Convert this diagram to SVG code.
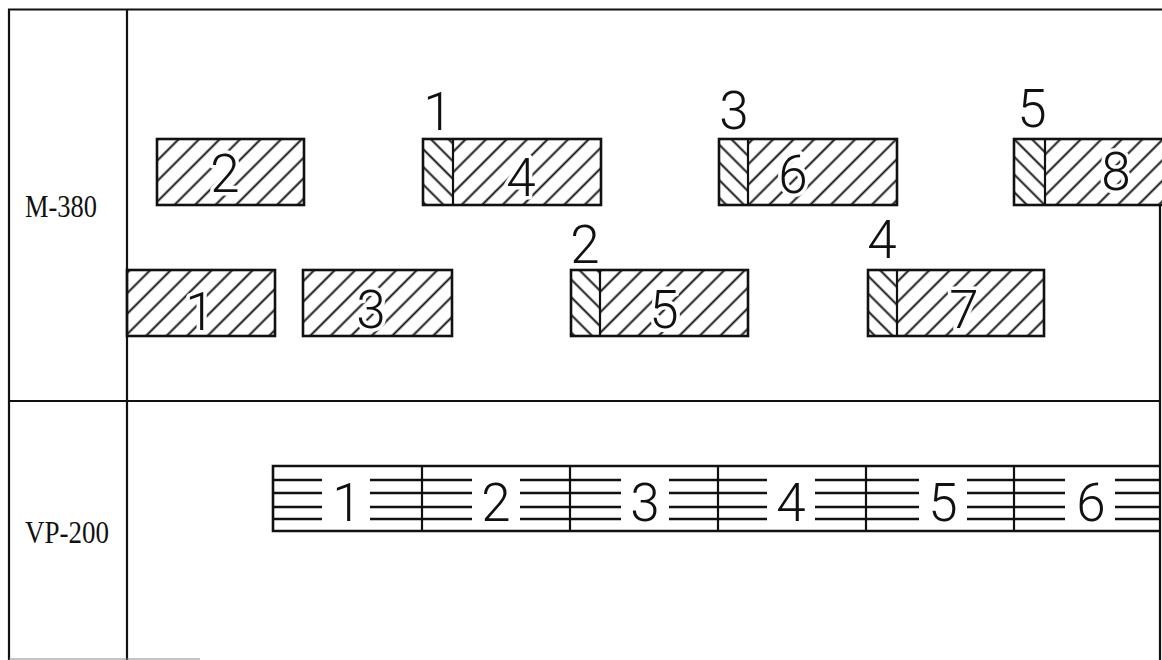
<svg xmlns="http://www.w3.org/2000/svg" width="1162" height="660" viewBox="0 0 1162 660">
<style>
.frame{stroke:#111;stroke-width:2.2;fill:none}
.box{stroke:#111;stroke-width:2.6;fill:none}
.div{stroke:#111;stroke-width:2.2}
.hl{stroke:#111;stroke-width:2.6}
.dig{font-family:Roboto,Inter,"Liberation Sans",sans-serif;font-weight:300;font-size:53px;fill:#111;text-anchor:middle}
.halo{stroke:#fff;stroke-width:7;paint-order:stroke;stroke-linejoin:round}
.lab{font-family:"Liberation Serif",serif;font-size:32px;fill:#111}
</style>
<defs>
<pattern id="hatchF" patternUnits="userSpaceOnUse" width="40" height="14.5" patternTransform="rotate(-45)">
<line x1="0" y1="7.25" x2="40" y2="7.25" stroke="#111" stroke-width="1.8"/>
</pattern>
<pattern id="hatchB" patternUnits="userSpaceOnUse" width="40" height="12.5" patternTransform="rotate(45)">
<line x1="0" y1="6.25" x2="40" y2="6.25" stroke="#111" stroke-width="1.8"/>
</pattern>
</defs>
<rect width="1162" height="660" fill="#fff"/>
<g id="frame">
<line class="frame" x1="8" y1="9.5" x2="1162" y2="9.5"/>
<line class="frame" x1="9" y1="9" x2="9" y2="660"/>
<line class="frame" x1="127" y1="9" x2="127" y2="660"/>
<line class="frame" x1="9" y1="401" x2="1160" y2="401"/>
<line class="frame" x1="1160" y1="206" x2="1160" y2="660"/>
<line x1="9" y1="659" x2="200" y2="659" stroke="#888" stroke-width="1.2"/>
</g>
<g id="label-m380"><text class="lab" x="25" y="217" textLength="72" lengthAdjust="spacingAndGlyphs">M-380</text></g>
<g id="label-vp200"><text class="lab" x="25" y="543" textLength="84" lengthAdjust="spacingAndGlyphs">VP-200</text></g>
<g id="m380-job2">
<rect x="157" y="139" width="147" height="66" fill="url(#hatchF)"/>
<rect class="box" x="157" y="139" width="147" height="66"/>
<text class="dig halo" x="225" y="192">2</text>
</g>
<g id="m380-job4">
<rect x="423" y="139" width="30" height="66" fill="url(#hatchB)"/>
<rect x="453" y="139" width="148" height="66" fill="url(#hatchF)"/>
<rect class="box" x="423" y="139" width="178" height="66"/>
<line class="div" x1="453" y1="139" x2="453" y2="205"/>
<text class="dig halo" x="521" y="196">4</text>
<text class="dig" x="438" y="130">1</text>
</g>
<g id="m380-job6">
<rect x="719" y="139" width="29" height="66" fill="url(#hatchB)"/>
<rect x="748" y="139" width="149" height="66" fill="url(#hatchF)"/>
<rect class="box" x="719" y="139" width="178" height="66"/>
<line class="div" x1="748" y1="139" x2="748" y2="205"/>
<text class="dig halo" x="793" y="193">6</text>
<text class="dig" x="734" y="129">3</text>
</g>
<g id="m380-job8">
<rect x="1014" y="139" width="31" height="66" fill="url(#hatchB)"/>
<rect x="1045" y="139" width="150" height="66" fill="url(#hatchF)"/>
<rect class="box" x="1014" y="139" width="180" height="66"/>
<line class="div" x1="1045" y1="139" x2="1045" y2="205"/>
<text class="dig halo" x="1116" y="190">8</text>
<text class="dig" x="1032" y="127">5</text>
</g>
<g id="m380-job1">
<rect x="127" y="270" width="148" height="66" fill="url(#hatchF)"/>
<rect class="box" x="127" y="270" width="148" height="66"/>
<text class="dig halo" x="200" y="330">1</text>
</g>
<g id="m380-job3">
<rect x="303" y="270" width="149" height="66" fill="url(#hatchF)"/>
<rect class="box" x="303" y="270" width="149" height="66"/>
<text class="dig halo" x="371" y="328">3</text>
</g>
<g id="m380-job5">
<rect x="571" y="270" width="29" height="66" fill="url(#hatchB)"/>
<rect x="600" y="270" width="148" height="66" fill="url(#hatchF)"/>
<rect class="box" x="571" y="270" width="177" height="66"/>
<line class="div" x1="600" y1="270" x2="600" y2="336"/>
<text class="dig halo" x="664" y="328">5</text>
<text class="dig" x="585" y="263">2</text>
</g>
<g id="m380-job7">
<rect x="868" y="270" width="29" height="66" fill="url(#hatchB)"/>
<rect x="897" y="270" width="147" height="66" fill="url(#hatchF)"/>
<rect class="box" x="868" y="270" width="176" height="66"/>
<line class="div" x1="897" y1="270" x2="897" y2="336"/>
<text class="dig halo" x="964" y="328">7</text>
<text class="dig" x="882" y="258">4</text>
</g>
<g id="vp200-strip">
<line class="hl" x1="273" y1="480" x2="1160" y2="480"/>
<line class="hl" x1="273" y1="493" x2="1160" y2="493"/>
<line class="hl" x1="273" y1="507" x2="1160" y2="507"/>
<line class="hl" x1="273" y1="519" x2="1160" y2="519"/>
<path class="box" d="M1160 466 H273 V531 H1160"/>
</g>
<g id="vp200-job1"><rect x="322" y="474" width="48" height="51" fill="#fff"/><text class="dig" x="347" y="521">1</text></g>
<g id="vp200-job2"><line class="div" x1="422" y1="466" x2="422" y2="531"/><rect x="472" y="474" width="48" height="51" fill="#fff"/><text class="dig" x="496" y="521">2</text></g>
<g id="vp200-job3"><line class="div" x1="570" y1="466" x2="570" y2="531"/><rect x="621" y="474" width="48" height="51" fill="#fff"/><text class="dig" x="645" y="521">3</text></g>
<g id="vp200-job4"><line class="div" x1="718" y1="466" x2="718" y2="531"/><rect x="767" y="474" width="48" height="51" fill="#fff"/><text class="dig" x="791" y="521">4</text></g>
<g id="vp200-job5"><line class="div" x1="866" y1="466" x2="866" y2="531"/><rect x="919" y="474" width="48" height="51" fill="#fff"/><text class="dig" x="943" y="521">5</text></g>
<g id="vp200-job6"><line class="div" x1="1014" y1="466" x2="1014" y2="531"/><rect x="1065" y="474" width="50" height="51" fill="#fff"/><text class="dig" x="1091" y="521">6</text></g>
<g id="connectors"/>
</svg>
